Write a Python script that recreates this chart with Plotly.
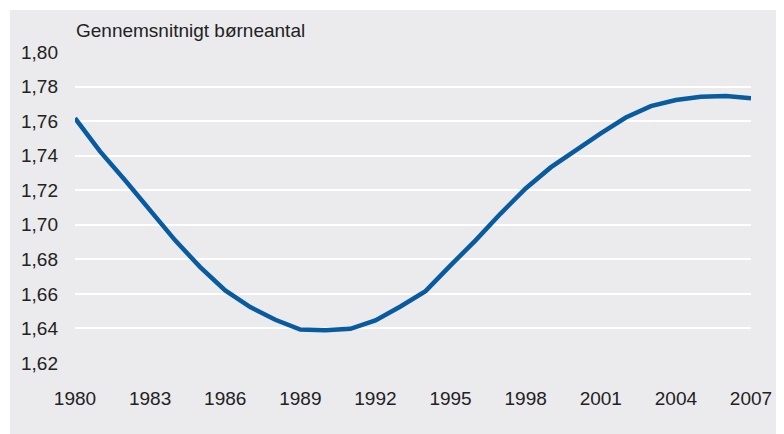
import plotly.graph_objects as go

years = list(range(1980, 2008))
fertility = [1.7617, 1.7425, 1.7258, 1.7084, 1.6910, 1.6755, 1.6620, 1.6524,
             1.6450, 1.6394, 1.6389, 1.6398, 1.6446, 1.6527, 1.6616, 1.6765,
             1.6910, 1.7065, 1.7210, 1.7332, 1.7432, 1.7529, 1.7621, 1.7687,
             1.7722, 1.7741, 1.7745, 1.7732]
x_ticks = list(range(1980, 2008, 3))
y_ticks = [1.62, 1.64, 1.66, 1.68, 1.70, 1.72, 1.74, 1.76, 1.78, 1.80]
y_labels = [f"{v:.2f}".replace(".", ",") for v in y_ticks]
title_text = "Gennemsnitnigt børneantal"

FONT = "Liberation Sans"
TXT = "#222222"

fig = go.Figure()
fig.add_trace(go.Scatter(x=years, y=fertility, mode="lines",
                         line=dict(color="#075b9e", width=4.5),
                         hoverinfo="x+y", showlegend=False))

# page has an 8px body margin, so the figure is placed at (8, 8)
W, H = 776, 426
L, T = 67, 44
R = W - 751
B = H - 355
pw = W - L - R
ph = H - T - B

fig.add_shape(type="rect", xref="paper", yref="paper", layer="below",
              x0=(1 - L) / pw, x1=(W + 5 - L) / pw,
              y0=-(H + 5 - (H - B)) / ph, y1=1 + (T - 2) / ph,
              fillcolor="#ebebed", line=dict(width=0))

fig.add_annotation(text=title_text, xref="paper", yref="paper", x=0, y=1,
                   xanchor="left", yanchor="bottom", yshift=9, xshift=-1,
                   showarrow=False, font=dict(family=FONT, size=19, color=TXT))

fig.update_layout(
    width=W, height=H,
    margin=dict(l=L, r=R, t=T, b=B),
    paper_bgcolor="white",
    plot_bgcolor="#dcdddf",
    font=dict(family=FONT, size=19, color=TXT),
    xaxis=dict(range=[1980, 2007], tickvals=x_ticks, ticktext=[str(v) for v in x_ticks],
               showgrid=False, zeroline=False, showline=False, ticks="",
               ticklabelstandoff=22, fixedrange=True),
    yaxis=dict(range=[1.62, 1.80], tickvals=y_ticks, ticktext=y_labels,
               showgrid=True, gridcolor="white", gridwidth=2.2, zeroline=False,
               showline=False, ticks="", ticklabelstandoff=16, fixedrange=True),
)

fig.write_html("out.html")
